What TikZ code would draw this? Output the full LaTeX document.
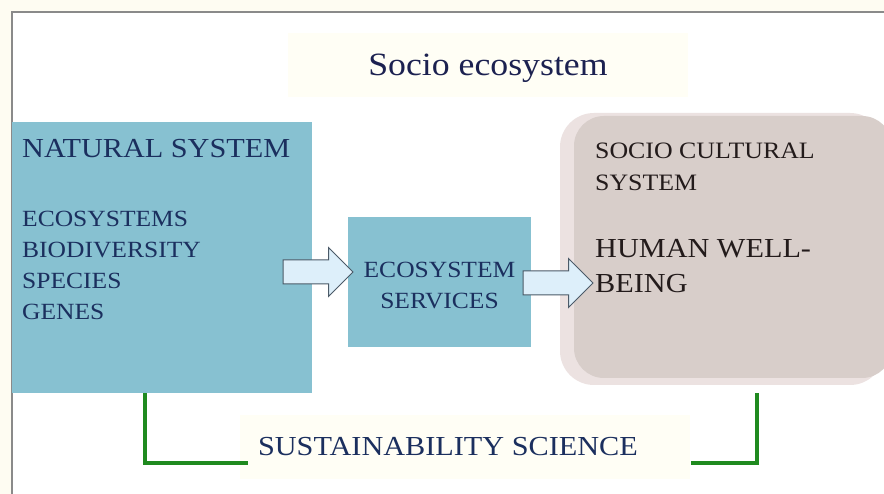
\documentclass[tikz,border=0pt]{standalone}
\usepackage{fontspec}
\setmainfont{Liberation Serif}
\newfontfamily\slidefont[FakeStretch=1.1]{Liberation Serif}
\usetikzlibrary{shapes.arrows}

\definecolor{paper}{HTML}{FEFCF2}
\definecolor{framegray}{HTML}{8A8A8A}
\definecolor{natblue}{HTML}{87C1D1}
\definecolor{inkblue}{HTML}{1B2F5E}
\definecolor{titleink}{HTML}{1C2150}
\definecolor{socrim}{HTML}{ECE2E1}
\definecolor{socfill}{HTML}{D8CECA}
\definecolor{socink}{HTML}{231B1B}
\definecolor{arrowfill}{HTML}{DDEFFA}
\definecolor{arrowline}{HTML}{4B5A68}
\definecolor{bracketgreen}{HTML}{1F8A1F}
\definecolor{haze}{HTML}{FFFEF5}

\tikzset{
  bluebox/.style={fill=natblue, draw=none, inner sep=0pt},
  bluetext/.style={text=inkblue, font=\slidefont\fontsize{23.2}{31}\selectfont, inner sep=0pt},
  soctext/.style={text=socink, inner sep=0pt},
  blockarrow/.style={single arrow, draw=arrowline, fill=arrowfill, line width=1pt,
    minimum height=70pt, inner xsep=0pt, inner ysep=11.5pt,
    single arrow head extend=12.5pt},
  bracket/.style={draw=bracketgreen, line width=3.2pt},
}

\begin{document}
\begin{tikzpicture}[x=1pt,y=-1pt]
  \useasboundingbox (0,0) rectangle (884,494);
  \fill[paper] (0,0) rectangle (884,494);
  \fill[white] (12,12) rectangle (884,494);
  \draw[framegray, line width=1.2pt] (12,494) -- (12,12) -- (884,12);

  % title
  \node[fill=haze, minimum width=400pt, minimum height=64pt] (titlebox) at (488,65) {};
  \node[text=titleink, inner sep=0pt, font=\slidefont\fontsize{32.5}{36}\selectfont] (title) at (488,68) {Socio ecosystem};

  % natural system
  \node[bluebox, minimum width=300pt, minimum height=271pt] (nat) at (162,257.5) {};
  \node[bluetext, anchor=base west, font=\slidefont\fontsize{27.5}{30}\selectfont] (natname) at (22,158) {NATURAL SYSTEM};
  \foreach \w [count=\i] in {ECOSYSTEMS,BIODIVERSITY,SPECIES,GENES}
    \node[bluetext, anchor=base west] (item\i) at (22,196+31*\i) {\w};

  % ecosystem services
  \node[bluebox, minimum width=183pt, minimum height=130pt] (serv) at (439.5,282) {};
  \node[bluetext, align=center] (servname) at ([yshift=-3pt]serv.center) {ECOSYSTEM\\SERVICES};

  % socio cultural system
  \node[fill=socrim, rounded corners=34pt, minimum width=324pt, minimum height=272pt] (socrim) at (722,249) {};
  \node[fill=socfill, rounded corners=30pt, minimum width=318pt, minimum height=262pt] (soc) at (733,247) {};
  \node[soctext, anchor=base west, font=\slidefont\fontsize{23.5}{23}\selectfont] (soc1) at (595,159) {SOCIO CULTURAL};
  \node[soctext, anchor=base west, font=\slidefont\fontsize{23.5}{23}\selectfont] (soc2) at (595,191) {SYSTEM};
  \node[soctext, anchor=base west, font=\slidefont\fontsize{27.5}{30}\selectfont] (hw1) at (595,258) {HUMAN WELL-};
  \node[soctext, anchor=base west, font=\slidefont\fontsize{27.5}{30}\selectfont] (hw2) at (595,293) {BEING};

  % block arrows
  \node[blockarrow] (arr1) at (312,272) {};
  \node[blockarrow] (arr2) at (552,283) {};

  % sustainability science
  \node[fill=haze, minimum width=450pt, minimum height=64pt] (sus) at (465,447) {};
  \node[text=inkblue, inner sep=0pt, font=\slidefont\fontsize{27.5}{30}\selectfont] (susname) at (448,447) {SUSTAINABILITY SCIENCE};
  \coordinate (rbar) at (757,0);
  \draw[bracket] ([xshift=-17pt]nat.south) |- ([xshift=-10pt,yshift=-16pt]susname.west);
  \draw[bracket] ([yshift=-8pt]socrim.south -| rbar) |- ([xshift=53pt,yshift=-16pt]susname.east);
\end{tikzpicture}
\end{document}
